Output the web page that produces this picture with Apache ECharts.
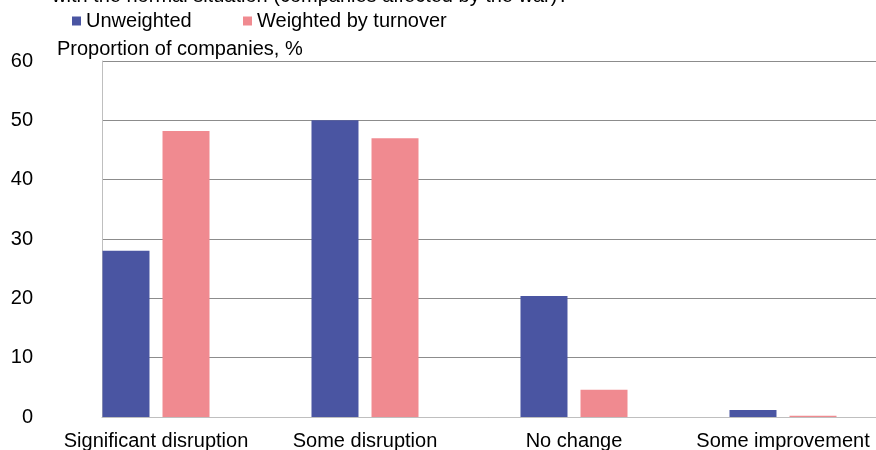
<!DOCTYPE html>
<html>
<head>
<meta charset="utf-8">
<script src="https://cdn.jsdelivr.net/npm/echarts@6/dist/echarts.min.js"></script>
<style>
html,body{margin:0;padding:0;background:#fff;}
#chart{width:876px;height:450px;}
</style>
</head>
<body>
<div id="chart"></div>
<script>
const categories = ['Significant disruption', 'Some disruption', 'No change', 'Some improvement'];
const unweighted = [28, 50, 20.4, 1.2];
const weighted = [48.2, 47, 4.6, 0.2];
const yTicks = [0, 10, 20, 30, 40, 50, 60];
const titleText = 'with the normal situation (companies affected by the war)?';
const axisTitle = 'Proportion of companies, %';

const FONT = 'Liberation Sans, Arial, sans-serif';
const FS = 20;
const chart = echarts.init(document.getElementById('chart'), null, {renderer: 'canvas'});
const yMin = yTicks[0], yMax = yTicks[yTicks.length - 1], yStep = yTicks[1] - yTicks[0];

chart.setOption({
  animation: false,
  backgroundColor: '#ffffff',
  title: [
    {text: titleText, left: 52, top: -14, padding: 0,
     textStyle: {fontFamily: FONT, fontSize: FS, fontWeight: 'normal', color: '#000'}},
    {text: axisTitle, left: 57, top: 39, padding: 0,
     textStyle: {fontFamily: FONT, fontSize: FS, fontWeight: 'normal', color: '#000'}}
  ],
  legend: [
    {data: ['Unweighted'], left: 72, top: 11, padding: 0, icon: 'rect', itemWidth: 9, itemHeight: 9,
     textStyle: {fontFamily: FONT, fontSize: FS, color: '#000'}},
    {data: ['Weighted by turnover'], left: 243, top: 11, padding: 0, icon: 'rect', itemWidth: 9, itemHeight: 9,
     textStyle: {fontFamily: FONT, fontSize: FS, color: '#000'}}
  ],
  grid: [
    {left: 102, right: 0, top: 61, bottom: 33, outerBoundsMode: 'none'},
    {left: 51.5, right: -11.5, top: 61, bottom: 33, outerBoundsMode: 'none'}
  ],
  xAxis: [
    {type: 'category', gridIndex: 0, data: categories,
     axisLine: {show: true, lineStyle: {color: '#bfbfbf', width: 1}},
     axisTick: {show: false}, axisLabel: {show: false}, splitLine: {show: false}},
    {type: 'category', gridIndex: 1, data: categories,
     axisLine: {show: false}, axisTick: {show: false},
     axisLabel: {show: true, interval: 0, margin: 14, fontFamily: FONT, fontSize: FS, color: '#000'},
     splitLine: {show: false}}
  ],
  yAxis: [
    {type: 'value', gridIndex: 0, min: yMin, max: yMax, interval: yStep,
     axisLine: {show: true, lineStyle: {color: '#bfbfbf', width: 1}},
     axisTick: {show: false},
     axisLabel: {margin: 69, fontFamily: FONT, fontSize: FS, color: '#000'},
     splitLine: {show: true, lineStyle: {color: '#8c8c8c', width: 1}}},
    {type: 'value', gridIndex: 1, min: yMin, max: yMax, interval: yStep, show: false,
     splitLine: {show: false}}
  ],
  series: [
    {name: 'Unweighted', type: 'bar', xAxisIndex: 1, yAxisIndex: 1, data: unweighted,
     barWidth: 47, barGap: '27.7%', itemStyle: {color: '#4a55a2'}},
    {name: 'Weighted by turnover', type: 'bar', xAxisIndex: 1, yAxisIndex: 1, data: weighted,
     barWidth: 47, barGap: '27.7%', itemStyle: {color: '#f08a90'}}
  ]
});
</script>
</body>
</html>
